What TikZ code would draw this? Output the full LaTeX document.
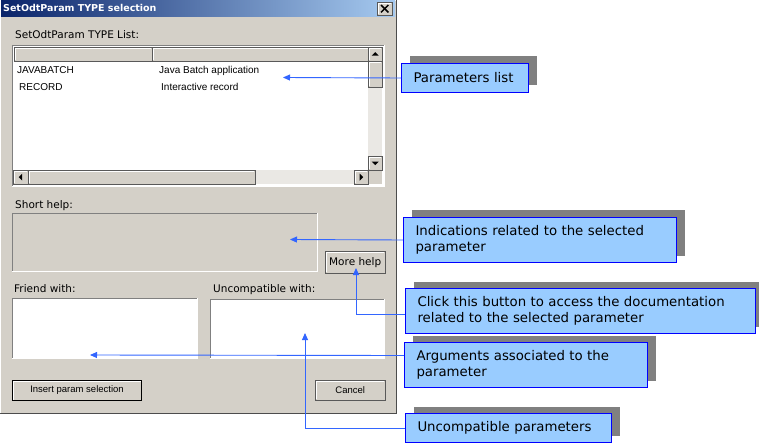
\documentclass[tikz,border=0pt]{standalone}
\usepackage{fontspec}
\usepackage{tikz}
\usetikzlibrary{arrows.meta,positioning,shadows,calc}
\newfontfamily\dlgfont{DejaVu Sans}
\newfontfamily\rowfont{Liberation Sans}
\newfontfamily\notefont{DejaVu Sans}
\definecolor{dlgbg}{HTML}{D4D0C8}
\definecolor{titledark}{HTML}{0A246A}
\definecolor{titlelight}{HTML}{A6CAF0}
\definecolor{notefill}{HTML}{99CCFF}
\definecolor{noteline}{HTML}{0000FF}
\definecolor{shadowgray}{HTML}{808080}
\definecolor{pointerblue}{HTML}{3366FF}
\definecolor{edgegray}{HTML}{808080}
\definecolor{trackgray}{HTML}{EAE8E4}

\begin{document}
\begin{tikzpicture}[x=1pt, y=-1pt,
    label/.style={font=\dlgfont\fontsize{10.5}{12}\selectfont, anchor=base west, inner sep=0pt},
    rowtext/.style={font=\rowfont\fontsize{10}{12}\selectfont, anchor=base west, inner sep=0pt},
    well/.style={anchor=north west, draw=edgegray, inner sep=0pt},
    button/.style={anchor=north west, fill=dlgbg, draw=black!65, inner sep=0pt, font=\rowfont\fontsize{9.5}{11}\selectfont},
    note/.style={anchor=north west, draw=noteline, line width=1pt, fill=notefill, align=left, inner xsep=12pt, inner ysep=0pt, font=\notefont\fontsize{13.3}{16}\selectfont, drop shadow={shadow xshift=8.5pt, shadow yshift=7pt, fill=shadowgray, opacity=1}},
    pointer/.style={-{Triangle[length=7pt,width=6pt]}, pointerblue, line width=0.9pt}
]
    \useasboundingbox (0,0) rectangle (759,446);
    \fill[white] (0,0) rectangle (759,446);

    % Dialog window
    \node[anchor=north west, fill=dlgbg, minimum width=396pt, minimum height=413pt, inner sep=0pt] (dialog) at (0,0) {};
    \draw[black!70] (dialog.north east) -- (dialog.south east) -- (dialog.south west);
    \draw[white] (dialog.south west) -- (dialog.north west) -- (dialog.north east);
    \shade[left color=titledark, right color=titlelight] (1,1) rectangle (395,17);
    \node[label, font=\dlgfont\bfseries\fontsize{9.5}{11}\selectfont, text=white] (title) at (3,12) {SetOdtParam TYPE selection};
    \node[button, minimum width=15pt, minimum height=13pt] (close) at (377,2) {};
    \draw[line width=1.5pt] ([shift={(4pt,-3pt)}]close.north west) -- ([shift={(-4pt,3pt)}]close.south east);
    \draw[line width=1.5pt] ([shift={(4pt,3pt)}]close.south west) -- ([shift={(-4pt,-3pt)}]close.north east);

    % Type list
    \node[label] (listlabel) at (15,39) {SetOdtParam TYPE List:};
    \node[well, fill=white, minimum width=372pt, minimum height=141pt] (list) at (12,45) {};
    \draw[white] (list.north east) -- (list.south east) -- (list.south west);
    \node[button, minimum width=138pt, minimum height=14pt] (colA) at (14,47) {};
    \node[button, minimum width=216pt, minimum height=14pt] (colB) at (colA.north east) {};
    \fill[trackgray] (368,61) rectangle (382,170);
    \fill[trackgray] (13,170) rectangle (368,184);
    \fill[dlgbg] (368,170) rectangle (382,184);
    \node[button, minimum width=14pt, minimum height=14pt] (up) at (368,47) {};
    \node[button, minimum width=14pt, minimum height=26pt] (vthumb) at (368,61) {};
    \node[button, minimum width=14pt, minimum height=14pt] (down) at (368,156) {};
    \node[button, minimum width=15pt, minimum height=14pt] (left) at (13,170) {};
    \node[button, minimum width=227pt, minimum height=14pt] (hthumb) at (28,170) {};
    \node[button, minimum width=14pt, minimum height=14pt] (right) at (354,170) {};
    \fill ($(up.center)+(0,-2)$) -- ++(3.5,3.5) -- ++(-7,0) -- cycle;
    \fill ($(down.center)+(0,2)$) -- ++(3.5,-3.5) -- ++(-7,0) -- cycle;
    \fill ($(left.center)+(-2,0)$) -- ++(3.5,-3.5) -- ++(0,7) -- cycle;
    \fill ($(right.center)+(2,0)$) -- ++(-3.5,-3.5) -- ++(0,7) -- cycle;
    \node[rowtext] (javabatch) at (17,74) {JAVABATCH};
    \node[rowtext] (javadesc) at (159,74) {Java Batch application};
    \node[rowtext] (record) at (19,91) {RECORD};
    \node[rowtext] (recorddesc) at (161,91) {Interactive record};

    % Short help
    \node[label] (helplabel) at (15,208) {Short help:};
    \node[well, fill=dlgbg, minimum width=305pt, minimum height=58pt] (shorthelp) at (12,213) {};
    \draw[white] (shorthelp.north east) -- (shorthelp.south east) -- (shorthelp.south west);
    \node[button, minimum width=60pt, minimum height=22pt, font=\dlgfont\fontsize{10.5}{12}\selectfont] (morehelp) at (325,251) {More help};

    % Friend / uncompatible lists
    \node[label] (friendlabel) at (14,292) {Friend with:};
    \node[well, fill=white, minimum width=185pt, minimum height=60pt] (friend) at (12,298) {};
    \draw[white] (friend.north east) -- (friend.south east) -- (friend.south west);
    \node[label] (uncomplabel) at (213,292) {Uncompatible with:};
    \node[well, fill=white, minimum width=174pt, minimum height=59pt] (uncomplist) at (210,299) {};
    \draw[white] (uncomplist.north east) -- (uncomplist.south east) -- (uncomplist.south west);

    % Buttons
    \node[button, draw=black, line width=1pt, minimum width=129pt, minimum height=20pt] (insert) at (12,380) {Insert param selection};
    \node[button, minimum width=70pt, minimum height=20pt] (cancel) at (315,380) {Cancel};
    \foreach \b in {close,colA,colB,up,vthumb,down,left,hthumb,right,morehelp,insert,cancel}
        \draw[white] ([shift={(1pt,1pt)}]\b.south west) -- ([shift={(1pt,-1pt)}]\b.north west) -- ([shift={(-1pt,-1pt)}]\b.north east);

    % Callouts
    \node[note, text width=103pt, minimum height=29pt] (params) at (401,63) {Parameters list};
    \node[note, text width=249pt, minimum height=45pt] (notes) at (403,217) {Indications related to the selected\\parameter};
    \node[note, text width=326pt, minimum height=45pt] (click) at (405,288) {Click this button to access the documentation\\related to the selected parameter};
    \node[note, text width=219pt, minimum height=45pt] (args) at (404,342) {Arguments associated to the\\parameter};
    \node[note, text width=182pt, minimum height=29pt] (uncomp) at (405,413) {Uncompatible parameters};

    % Pointers
    \coordinate (paramsTip) at (283,77.5);
    \coordinate (notesTip) at (290,239.5);
    \coordinate (helpTip) at (356,268);
    \coordinate (friendTip) at (90,355);
    \coordinate (uncompTip) at (305,333);
    \draw[pointer] (params.west) -- (paramsTip);
    \draw[pointer] (notes.west) -- (notesTip);
    \draw[pointer] ([yshift=-3.5pt]click.west) -| (helpTip);
    \draw[pointer] ([yshift=9.5pt]args.west) -- (friendTip);
    \draw[pointer] (uncomp.west) -| (uncompTip);
\end{tikzpicture}
\end{document}
